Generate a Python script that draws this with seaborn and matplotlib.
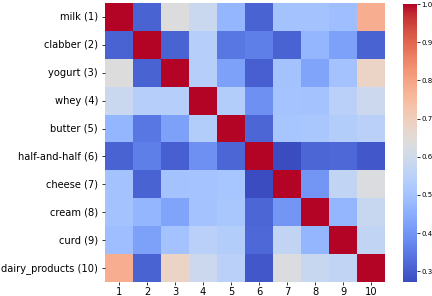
import numpy as np
import pandas as pd
import seaborn as sns
import matplotlib
matplotlib.use("Agg")
import matplotlib.pyplot as plt

labels = ["milk (1)", "clabber (2)", "yogurt (3)", "whey (4)", "butter (5)",
          "half-and-half (6)", "cheese (7)", "cream (8)", "curd (9)",
          "dairy_products (10)"]
xticklabels = ["1", "2", "3", "4", "5", "6", "7", "8", "9", "10"]

row_milk      = [1.00, 0.31, 0.636, 0.585, 0.47, 0.31, 0.50, 0.50, 0.49, 0.78]
row_clabber   = [0.31, 1.00, 0.31, 0.54, 0.345, 0.36, 0.31, 0.47, 0.42, 0.31]
row_yogurt    = [0.636, 0.31, 1.00, 0.54, 0.42, 0.305, 0.50, 0.43, 0.50, 0.68]
row_whey      = [0.585, 0.54, 0.54, 1.00, 0.535, 0.39, 0.505, 0.50, 0.55, 0.59]
row_butter    = [0.47, 0.345, 0.42, 0.535, 1.00, 0.315, 0.51, 0.515, 0.535, 0.55]
row_halfhalf  = [0.31, 0.36, 0.305, 0.39, 0.315, 1.00, 0.272, 0.315, 0.32, 0.29]
row_cheese    = [0.50, 0.31, 0.50, 0.505, 0.51, 0.272, 1.00, 0.40, 0.565, 0.63]
row_cream     = [0.50, 0.47, 0.43, 0.50, 0.515, 0.315, 0.40, 1.00, 0.47, 0.58]
row_curd      = [0.49, 0.42, 0.50, 0.55, 0.535, 0.32, 0.565, 0.47, 1.00, 0.565]
row_dairy     = [0.78, 0.31, 0.68, 0.59, 0.55, 0.29, 0.63, 0.58, 0.565, 1.00]

data = pd.DataFrame([row_milk, row_clabber, row_yogurt, row_whey, row_butter,
                     row_halfhalf, row_cheese, row_cream, row_curd, row_dairy],
                    index=labels, columns=xticklabels)

fig = plt.figure(figsize=(4.32, 2.96), dpi=100)
ax = fig.add_axes([0.2431, 0.0473, 0.6481, 0.9426])
cax = fig.add_axes([0.9329, 0.0473, 0.0324, 0.939])
sns.heatmap(data, cmap="coolwarm", ax=ax, cbar_ax=cax,
            xticklabels=True, yticklabels=True)
ax.tick_params(axis="y", labelsize=7.1, length=2.5, width=0.56, pad=2.5)
ax.tick_params(axis="x", labelsize=7.1, length=2.5, width=0.56, pad=1.2)
ax.set_yticklabels(labels, rotation=0)
ax.set_xticklabels(xticklabels, rotation=0)
cax.tick_params(labelsize=5, length=2.2, width=0.56, pad=1)
cax.yaxis.set_major_locator(matplotlib.ticker.MultipleLocator(0.1))
for s in cax.spines.values():
    s.set_visible(False)
fig.savefig("out.png", dpi=100)
